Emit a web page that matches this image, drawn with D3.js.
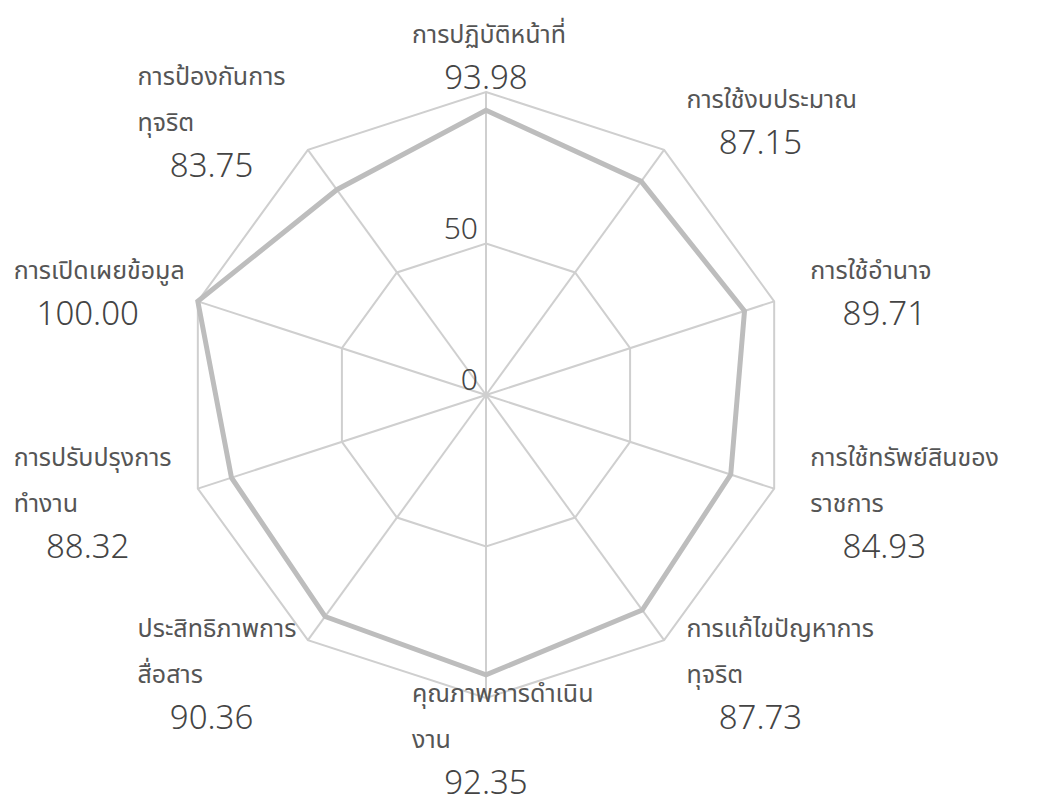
<!DOCTYPE html>
<html>
<head>
<meta charset="utf-8">
<script src="https://cdn.jsdelivr.net/npm/d3@7"></script>
<style>
  html, body { margin: 0; padding: 0; background: #fff; }
  svg { display: block; font-family: "Noto Sans Thai", "Noto Sans Thai UI", "Noto Sans", "Open Sans", sans-serif; }
</style>
</head>
<body>
<svg id="chart" width="1039" height="796"></svg>
<script>
const categories = [
  ["การปฏิบัติหน้าที่"],
  ["การใช้งบประมาณ"],
  ["การใช้อำนาจ"],
  ["การใช้ทรัพย์สินของ", "ราชการ"],
  ["การแก้ไขปัญหาการ", "ทุจริต"],
  ["คุณภาพการดำเนิน", "งาน"],
  ["ประสิทธิภาพการ", "สื่อสาร"],
  ["การปรับปรุงการ", "ทำงาน"],
  ["การเปิดเผยข้อมูล"],
  ["การป้องกันการ", "ทุจริต"]
];
const values = [93.98, 87.15, 89.71, 84.93, 87.73, 92.35, 90.36, 88.32, 100.00, 83.75];
const gridLevels = [50, 100];
const tickValues = [0, 50];

const W = 1039, H = 796;
const cx = 486, cy = 395, R = 303;
const svg = d3.select("#chart");
const rScale = d3.scaleLinear().domain([0, 100]).range([0, R]);
const n = categories.length;
const angle = d3.scaleLinear().domain([0, n]).range([0, 2 * Math.PI]);
const pt = (i, v) => [cx + rScale(v) * Math.sin(angle(i)), cy - rScale(v) * Math.cos(angle(i))];

const g = svg.append("g");
const line = d3.line().curve(d3.curveLinearClosed);

// grid rings
g.selectAll("path.ring").data(gridLevels).join("path")
  .attr("class", "ring")
  .attr("d", lv => line(d3.range(n).map(i => pt(i, lv))))
  .attr("fill", "none").attr("stroke", "#cfcfcf").attr("stroke-width", 2);

// spokes
g.selectAll("line.spoke").data(d3.range(n)).join("line")
  .attr("class", "spoke")
  .attr("x1", cx).attr("y1", cy)
  .attr("x2", i => pt(i, 100)[0]).attr("y2", i => pt(i, 100)[1])
  .attr("stroke", "#cfcfcf").attr("stroke-width", 2);

// data
g.append("path")
  .attr("d", line(values.map((v, i) => pt(i, v))))
  .attr("fill", "none").attr("stroke", "#bdbdbd").attr("stroke-width", 5)
  .attr("stroke-linejoin", "miter");

// tick labels
g.selectAll("text.tick").data(tickValues).join("text")
  .attr("class", "tick")
  .attr("x", cx - 8).attr("y", v => cy - rScale(v) - 5)
  .attr("text-anchor", "end")
  .attr("font-size", 30).attr("font-weight", 300).attr("fill", "#444")
  .text(d => d);

// axis labels
const blockW = 148, pitch = 46, gap = 38;
const labels = g.selectAll("g.lab").data(categories).join("g").attr("class", "lab");
labels.each(function(lines, i) {
  const a = angle(i);
  const s = Math.sin(a), c = Math.cos(a);
  const ax = cx + (R + gap) * s, ay = cy - (R + gap) * c;
  let left;
  if (Math.abs(s) < 1e-6) left = ax - blockW / 2;
  else if (s > 0) left = ax;
  else left = ax - blockW;
  const rows = lines.length + 1;
  const top = ay - rows * pitch / 2;
  const sel = d3.select(this);
  lines.forEach((t, k) => {
    sel.append("text")
      .attr("x", left).attr("y", top + k * pitch + 35)
      .attr("font-size", 25).attr("fill", "#555")
      .text(t);
  });
  sel.append("text")
    .attr("x", left + blockW / 2).attr("y", top + lines.length * pitch + 35)
    .attr("text-anchor", "middle")
    .attr("font-size", 33).attr("font-weight", 300).attr("fill", "#444")
    .text(d3.format(".2f")(values[i]));
});
</script>
</body>
</html>
